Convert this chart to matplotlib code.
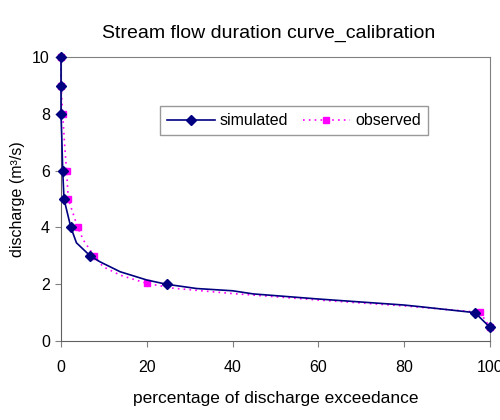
import numpy as np
import matplotlib.pyplot as plt

plt.rcParams['font.family'] = ['Liberation Sans', 'DejaVu Sans']

# simulated flow duration curve (markers only on some points)
sim_x = [0, 0, 0, 0.2, 0.4, 0.7, 2.3, 3.6, 6.8, 9.1, 13.8, 20, 24.6, 31.6, 40, 44.8, 60, 79.8, 83.7, 96.5, 100]
sim_y = [10, 9, 8, 7.1, 6, 5, 4, 3.46, 3, 2.79, 2.44, 2.15, 2.0, 1.85, 1.77, 1.66, 1.48, 1.27, 1.21, 1.0, 0.48]
sim_marks = [0, 1, 2, 4, 5, 6, 8, 12, 19, 20]

# observed flow duration curve
obs_x = [0, 0, 0.4, 0.8, 1.3, 1.7, 3.9, 5.2, 7.7, 9.8, 13.8, 20, 26.2, 39.4, 60.4, 80.6, 97.7, 100]
obs_y = [10, 9, 8, 7.0, 6, 5, 4, 3.56, 3, 2.62, 2.32, 2.03, 1.86, 1.68, 1.44, 1.23, 1.01, 0.48]
obs_marks = [0, 1, 2, 4, 5, 6, 8, 11, 16, 17]

fig = plt.figure(figsize=(5, 4.2), dpi=100)
ax = fig.add_axes([0.122, 0.188, 0.858, 0.676])

ax.plot(sim_x, sim_y, color='#000080', lw=1.2, marker='D', ms=5.5,
        markevery=sim_marks, label='simulated', clip_on=False, zorder=3)
ax.plot(obs_x, obs_y, color='#ff00ff', lw=1.2, ls=(0, (1, 2.5)), marker='s', ms=5,
        markevery=obs_marks, label='observed', clip_on=False, zorder=2)

ax.set_xlim(0, 100)
ax.set_ylim(0, 10)
ax.set_xticks([0, 20, 40, 60, 80, 100])
ax.set_yticks([0, 2, 4, 6, 8, 10])
ax.tick_params(direction='out', length=4, color='#808080', labelsize=11.5)
ax.tick_params(axis='x', pad=10)
ax.tick_params(axis='y', pad=4)
for s in ax.spines.values():
    s.set_color('#808080')
ax.spines['left'].set_color('#606060')
ax.spines['bottom'].set_color('#606060')

ax.set_xlabel('percentage of discharge exceedance', fontsize=12.5, labelpad=11)
ax.set_ylabel('discharge (m³/s)', fontsize=11.5, labelpad=5)
ax.set_title('Stream flow duration curve_calibration', fontsize=14, pad=14, x=0.485)

leg = ax.legend(loc='center', bbox_to_anchor=(0.543, 0.776), ncol=2, fontsize=11.5,
                frameon=True, fancybox=False, handlelength=3.0, columnspacing=0.9,
                borderpad=0.45, handletextpad=0.3)
leg.get_frame().set_edgecolor('#808080')
leg.get_frame().set_linewidth(1.0)

fig.savefig('out.png', dpi=100)
